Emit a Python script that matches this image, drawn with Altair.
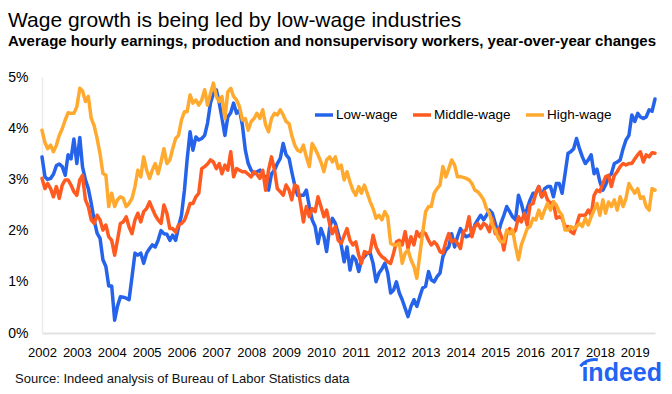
import altair as alt
import pandas as pd

FONT = "Liberation Sans"

series_names = ["Low-wage", "Middle-wage", "High-wage"]
series_colors = ["#2563EB", "#FF5A1F", "#FFAA2E"]
year_ticks = list(range(2002, 2020))
y_ticks = [0, 1, 2, 3, 4, 5]

title_text = "Wage growth is being led by low-wage industries"
subtitle_text = "Average hourly earnings, production and nonsupervisory workers, year-over-year changes"
source_text = "Source: Indeed analysis of Bureau of Labor Statistics data"
logo_text = "indeed"

# Monthly values, Jan 2002 - Aug 2019 (percent, year-over-year)
low_wage = [
    3.44, 3.05, 3.00, 3.02, 3.10, 3.27, 3.30, 3.25, 3.08, 3.48, 3.40, 3.79,
    3.31, 3.82, 3.25, 2.99, 2.82, 2.53, 2.21, 1.95, 1.85, 1.43, 1.30, 0.92,
    0.92, 0.25, 0.52, 0.71, 0.70, 0.68, 0.65, 1.10, 1.56, 1.52, 1.56, 1.36,
    1.56, 1.65, 1.72, 1.68, 1.81, 2.00, 1.94, 1.93, 1.81, 1.91, 1.81, 2.07,
    2.30, 2.79, 3.38, 3.93, 3.57, 3.83, 3.77, 3.80, 3.86, 4.10, 4.49, 4.68,
    4.75, 4.49, 4.20, 3.86, 4.22, 4.30, 4.49, 4.29, 4.36, 4.06, 3.57, 3.31,
    3.18, 3.11, 3.15, 3.18, 3.08, 3.05, 2.79, 3.11, 3.18, 3.31, 3.41, 3.70,
    3.48, 3.41, 3.15, 2.89, 2.69, 2.69, 2.69, 2.79, 2.47, 2.21, 2.08, 1.75,
    2.04, 1.88, 1.59, 2.04, 2.24, 2.14, 1.94, 1.72, 1.39, 1.68, 1.23, 1.50,
    1.43, 1.20, 1.43, 1.49, 1.56, 1.56, 1.36, 1.00, 1.17, 1.25, 1.36, 1.17,
    0.78, 0.84, 1.00, 0.78, 0.65, 0.48, 0.32, 0.52, 0.65, 0.52, 0.71, 0.88,
    0.91, 1.20, 1.04, 1.00, 1.10, 1.17, 1.49, 1.62, 1.68, 1.94, 1.68, 1.88,
    2.04, 1.94, 1.88, 1.90, 1.94, 2.11, 2.21, 2.30, 2.21, 2.30, 2.40, 2.34,
    2.14, 1.94, 2.14, 2.30, 2.47, 2.37, 2.27, 2.21, 2.69, 2.53, 2.30, 2.43,
    2.60, 2.73, 2.73, 2.86, 2.66, 2.82, 2.86, 2.86, 2.66, 2.92, 2.92, 2.73,
    3.11, 3.51, 3.54, 3.60, 3.80, 3.60, 3.44, 3.31, 3.38, 3.48, 3.11, 3.20,
    2.95, 2.79, 2.89, 3.05, 3.11, 3.31, 3.34, 3.38, 3.60, 3.77, 3.86, 4.26,
    4.13, 4.29, 4.22, 4.19, 4.22, 4.36, 4.33, 4.57,
]

middle_wage = [
    3.02, 2.82, 2.92, 2.82, 2.66, 2.86, 2.63, 2.89, 2.99, 2.99, 2.89, 2.76,
    2.69, 2.99, 3.08, 2.60, 2.47, 2.21, 2.14, 2.30, 2.21, 2.01, 2.11, 1.88,
    1.81, 1.52, 1.81, 2.14, 2.17, 2.27, 2.07, 1.94, 2.21, 2.34, 2.17, 2.37,
    2.43, 2.56, 2.43, 2.30, 2.21, 2.14, 2.50, 2.34, 2.04, 2.04, 1.97, 2.11,
    2.14, 2.20, 2.34, 2.53, 2.53, 2.66, 2.73, 3.21, 3.25, 3.30, 3.38, 3.34,
    3.21, 3.31, 3.11, 3.28, 3.18, 3.54, 3.05, 3.21, 3.18, 3.15, 3.15, 3.10,
    3.05, 3.15, 3.10, 3.02, 3.18, 2.79, 3.18, 3.44, 3.18, 2.82, 2.76, 2.69,
    2.89, 2.79, 2.60, 2.89, 2.86, 2.53, 2.17, 2.47, 2.27, 2.43, 2.37, 2.66,
    2.47, 2.27, 2.40, 2.14, 1.94, 2.08, 1.81, 1.75, 1.90, 2.04, 1.81, 1.72,
    1.78, 1.52, 1.36, 1.59, 1.56, 1.59, 1.91, 1.68, 1.56, 1.49, 1.45, 1.39,
    1.36, 1.56, 1.78, 1.81, 1.72, 1.98, 1.65, 1.88, 1.72, 1.98, 1.88, 1.98,
    1.94, 1.81, 1.72, 1.78, 1.72, 1.59, 1.56, 1.78, 1.94, 1.78, 1.82, 1.75,
    1.65, 1.98, 2.01, 2.27, 1.88, 2.08, 2.14, 2.04, 2.14, 2.10, 1.98, 2.24,
    1.94, 2.04, 1.91, 1.62, 1.94, 2.04, 1.94, 2.01, 2.27, 2.17, 2.34, 2.11,
    2.50, 2.53, 2.73, 2.86, 2.66, 2.76, 2.60, 2.53, 2.56, 2.24, 2.27, 2.24,
    2.08, 2.08, 1.98, 1.94, 2.11, 2.30, 2.30, 2.30, 2.40, 2.30, 2.69, 2.79,
    2.76, 2.92, 3.05, 3.08, 2.86, 3.08, 3.15, 3.25, 3.31, 3.28, 3.31, 3.31,
    3.40, 3.48, 3.54, 3.34, 3.48, 3.44, 3.52, 3.51,
]

high_wage = [
    3.96, 3.72, 3.60, 3.67, 3.54, 3.67, 3.86, 3.99, 4.16, 4.30, 4.29, 4.29,
    4.42, 4.78, 4.73, 4.52, 4.62, 4.19, 4.05, 3.80, 3.50, 3.12, 3.08, 2.47,
    2.73, 2.47, 2.60, 2.66, 2.63, 2.47, 2.53, 2.63, 2.86, 3.18, 3.05, 3.44,
    3.18, 3.02, 3.18, 3.31, 3.11, 3.34, 3.60, 3.31, 3.38, 3.60, 3.80, 3.86,
    4.16, 4.32, 4.32, 4.65, 4.49, 4.55, 4.45, 4.55, 4.75, 4.45, 4.68, 4.88,
    4.62, 4.52, 4.62, 4.19, 4.71, 4.78, 4.62, 4.55, 4.42, 4.16, 4.19, 3.96,
    4.13, 4.19, 4.29, 4.19, 4.36, 4.06, 3.93, 4.19, 4.29, 4.26, 4.36, 4.26,
    4.13, 4.09, 3.86, 3.67, 3.57, 3.54, 3.67, 3.44, 3.25, 3.70, 3.60, 3.48,
    3.34, 3.15, 3.38, 3.44, 3.34, 3.44, 3.21, 3.28, 2.99, 3.15, 2.95, 2.79,
    2.69, 2.86, 2.73, 2.89, 2.73, 2.56, 2.43, 2.24, 2.30, 2.21, 2.37, 2.27,
    1.75, 1.72, 1.72, 1.75, 1.36, 1.56, 1.62, 1.43, 1.30, 1.07, 1.52, 1.95,
    2.37, 2.47, 2.47, 2.73, 2.82, 2.89, 3.25, 3.05, 3.21, 3.38, 3.28, 3.05,
    3.05, 3.04, 3.02, 2.99, 2.92, 2.79, 2.76, 2.69, 2.60, 2.43, 2.34, 2.11,
    2.01, 1.85, 1.78, 1.78, 2.01, 1.94, 2.01, 1.70, 1.43, 1.72, 1.88, 2.04,
    2.08, 2.24, 2.21, 2.40, 2.24, 2.40, 2.53, 2.40, 2.56, 2.50, 2.37, 2.30,
    2.01, 2.01, 2.08, 2.04, 2.08, 2.14, 2.08, 2.24, 2.11, 2.27, 2.40, 2.53,
    2.30, 2.60, 2.34, 2.56, 2.47, 2.60, 2.40, 2.66, 2.47, 2.63, 2.92, 2.82,
    2.73, 2.82, 2.63, 2.66, 2.47, 2.40, 2.82, 2.79,
]

months = pd.date_range("2002-01-01", periods=len(low_wage), freq="MS")
frames = []
for name, vals in zip(series_names, [low_wage, middle_wage, high_wage]):
    frames.append(pd.DataFrame({"month": months.strftime("%Y-%m-%d"), "series": name, "value": vals}))
df = pd.concat(frames, ignore_index=True)

W, H = 613, 256

x_axis = alt.Axis(
    values=[alt.DateTime(year=y, month=1, date=1) for y in year_ticks],
    format="%Y", labelFontSize=13, labelFont=FONT, labelColor="#000000",
    ticks=False, grid=False, domainColor="#e2e2e2", domainWidth=2,
    labelPadding=13, labelFlush=False, labelOverlap=False, title=None,
)
y_axis = alt.Axis(
    values=y_ticks, labelExpr="datum.value + '%'", labelFontSize=14,
    labelFont=FONT, labelColor="#000000", ticks=False, grid=False,
    domainColor="#ececec", domainWidth=1.5, labelPadding=14, title=None,
)

lines = alt.Chart(df).mark_line(strokeWidth=3.5, strokeJoin="round", strokeCap="round").encode(
    x=alt.X("month:T", axis=x_axis,
            scale=alt.Scale(domain=[alt.DateTime(year=2002, month=1, date=1),
                                    alt.DateTime(year=2019, month=8, date=1)])),
    y=alt.Y("value:Q", axis=y_axis, scale=alt.Scale(domain=[0, 5], nice=False)),
    color=alt.Color(
        "series:N",
        scale=alt.Scale(domain=series_names, range=series_colors),
        legend=alt.Legend(
            orient="none", legendX=271, legendY=27, direction="horizontal",
            title=None, symbolType="stroke", symbolStrokeWidth=3.5, symbolSize=324,
            labelFontSize=13.5, labelFont=FONT, labelColor="#000000",
            labelOffset=1, columnPadding=8, padding=0,
        ),
    ),
)


def text_layer(txt, x, y, size, weight="normal", color="#000000", align="left"):
    return alt.Chart(pd.DataFrame({"t": [txt]})).mark_text(
        align=align, baseline="alphabetic", fontSize=size, fontWeight=weight,
        font=FONT, color=color,
    ).encode(x=alt.value(x), y=alt.value(y), text="t:N")


title = text_layer(title_text, -34, -50, 21)
subtitle = text_layer(subtitle_text, -34, -31.4, 15, weight="bold")
source = text_layer(source_text, -27, 305.5, 13, color="#111111")
logo = text_layer(logo_text, 620, 304, 25, weight="bold", color="#2164F3", align="right")
logo_arc = alt.Chart(pd.DataFrame({"t": [logo_text]})).mark_arc(
    theta=5.43, theta2=6.43, radius=21, radius2=18, color="#2164F3"
).encode(x=alt.value(553), y=alt.value(302))

chart = alt.layer(lines, title, subtitle, source, logo, logo_arc).properties(
    width=W, height=H,
    padding={"left": 34, "top": 69, "right": 8, "bottom": 53},
    autosize="none",
).configure_view(strokeWidth=0)

chart.save("out.html", embed_options={"renderer": "svg", "actions": False})
